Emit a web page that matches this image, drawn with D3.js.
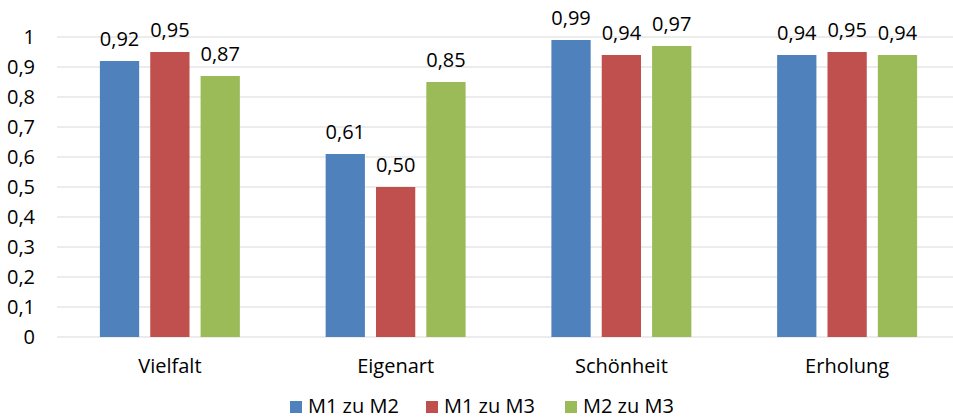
<!DOCTYPE html>
<html>
<head>
<meta charset="utf-8">
<script src="https://cdn.jsdelivr.net/npm/d3@7"></script>
<style>
  body { margin: 0; background: #fff; }
  svg { display: block; overflow: hidden; font-family: "Open Sans", sans-serif; }
</style>
</head>
<body>
<div id="chart"></div>
<script>
// data
const categories = ["Vielfalt", "Eigenart", "Schönheit", "Erholung"];
const seriesNames = ["M1 zu M2", "M1 zu M3", "M2 zu M3"];
const m1m2 = [0.92, 0.61, 0.99, 0.94];
const m1m3 = [0.95, 0.50, 0.94, 0.95];
const m2m3 = [0.87, 0.85, 0.97, 0.94];
const yTicks = [0, 0.1, 0.2, 0.3, 0.4, 0.5, 0.6, 0.7, 0.8, 0.9, 1];

const seriesValues = [m1m2, m1m3, m2m3];
const colors = ["#4F81BD", "#C0504D", "#9BBB59"];

const W = 953, H = 420;
const margin = {top: 37, left: 57, bottom: 83};
const plotRight = 960; // plot runs a bit past the window edge
const fontSize = "20px";

const svg = d3.select("#chart").append("svg")
  .attr("width", W)
  .attr("height", H);

const fmt = v => d3.format(".2f")(v).replace(".", ",");
const tickFmt = v => String(+v.toFixed(1)).replace(".", ",");

//Scales
const x0 = d3.scaleBand()
  .domain(categories)
  .range([margin.left, plotRight])
  .paddingInner(0.38)
  .paddingOuter(0.19);

const x1 = d3.scaleBand()
  .domain(seriesNames)
  .range([0, x0.bandwidth()])
  .paddingInner(0.22);

const y = d3.scaleLinear()
  .domain([0, 1])
  .range([H - margin.bottom, margin.top]);

//Gridlines
svg.append("g")
  .selectAll("line")
  .data(yTicks)
  .enter().append("line")
  .attr("x1", margin.left)
  .attr("x2", plotRight)
  .attr("y1", d => y(d))
  .attr("y2", d => y(d))
  .style("stroke", "#d9d9d9")
  .style("stroke-width", 1);

//Y axis labels
const yAxis = svg.append("g")
  .attr("transform", "translate(" + (margin.left - 22) + ",0)")
  .call(d3.axisLeft(y).tickValues(yTicks).tickFormat(tickFmt).tickSize(0).tickPadding(0));
yAxis.select(".domain").remove();
yAxis.selectAll("text")
  .style("font-family", "Open Sans, sans-serif")
  .style("font-size", fontSize)
  .attr("fill", "#000");

//Bars
const groups = svg.append("g")
  .selectAll("g")
  .data(categories)
  .enter().append("g")
  .attr("transform", d => "translate(" + x0(d) + ",0)");

groups.selectAll("rect")
  .data((c, i) => seriesNames.map((s, j) => ({s: s, v: seriesValues[j][i], j: j})))
  .enter().append("rect")
  .attr("x", d => x1(d.s))
  .attr("y", d => y(d.v))
  .attr("width", x1.bandwidth())
  .attr("height", d => y(0) - y(d.v))
  .style("fill", d => colors[d.j]);

groups.selectAll("text")
  .data((c, i) => seriesNames.map((s, j) => ({s: s, v: seriesValues[j][i]})))
  .enter().append("text")
  .attr("x", d => x1(d.s) + x1.bandwidth() / 2)
  .attr("y", d => y(d.v) - 15)
  .attr("text-anchor", "middle")
  .style("font-size", fontSize)
  .attr("fill", "#000")
  .text(d => fmt(d.v));

//X axis labels
const xAxis = svg.append("g")
  .attr("transform", "translate(0," + y(0) + ")")
  .call(d3.axisBottom(x0).tickSize(0).tickPadding(22));
xAxis.select(".domain").remove();
xAxis.selectAll("text")
  .style("font-family", "Open Sans, sans-serif")
  .style("font-size", fontSize)
  .attr("fill", "#000");

//Legend
const legendX = [290, 426, 565];
const legend = svg.append("g")
  .selectAll("g")
  .data(seriesNames)
  .enter().append("g")
  .attr("transform", (d, i) => "translate(" + legendX[i] + ",401)");

legend.append("rect")
  .attr("width", 12)
  .attr("height", 12)
  .style("fill", (d, i) => colors[i]);

legend.append("text")
  .attr("x", 18)
  .attr("y", 12)
  .style("font-size", fontSize)
  .attr("fill", "#000")
  .text(d => d);
</script>
</body>
</html>
